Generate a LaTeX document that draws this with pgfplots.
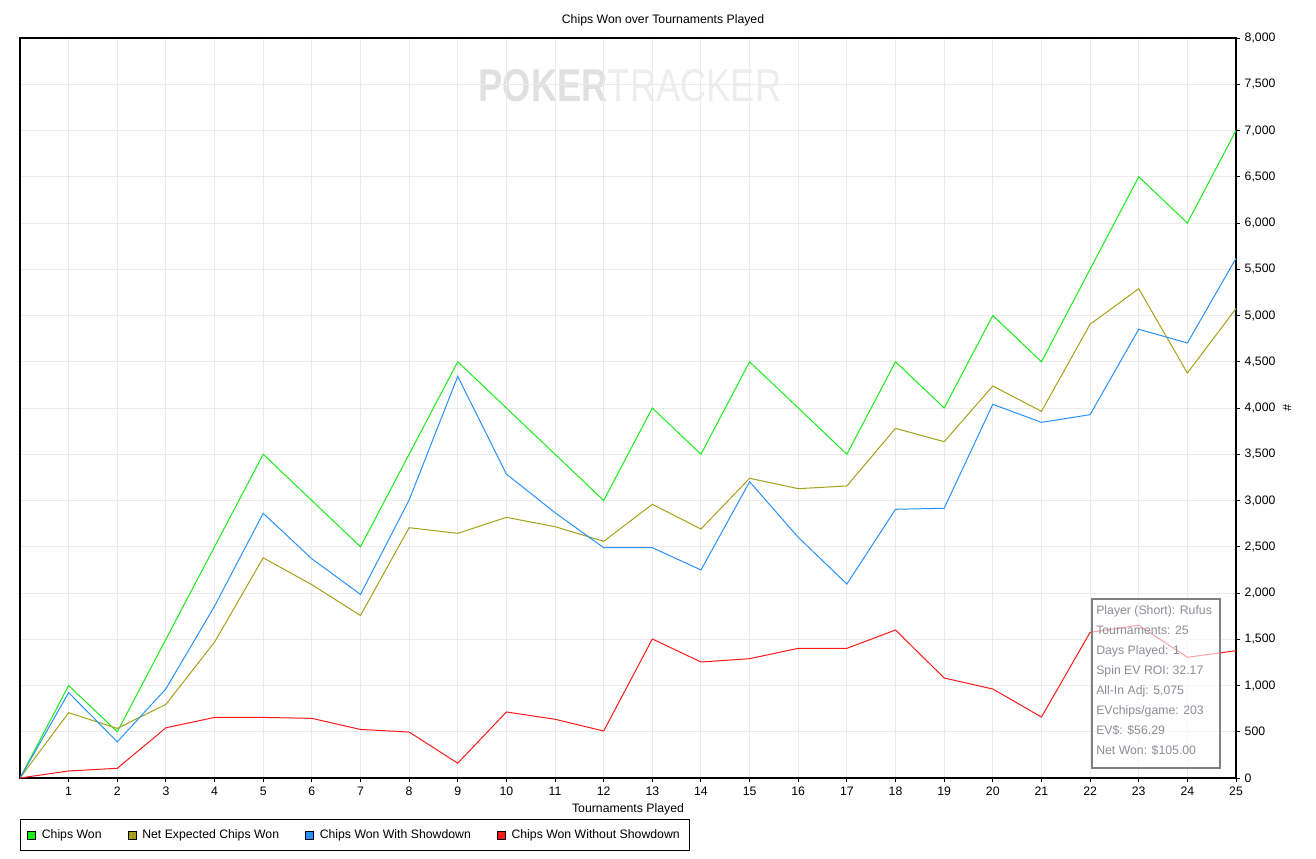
\documentclass[border=0pt]{standalone}
\usepackage{fontspec}
\setmainfont{Liberation Sans}
\usepackage{pgfplots}
\usepackage{pgfplotstable}
\pgfplotsset{compat=1.18}
\definecolor{cwgreen}{RGB}{25,235,25}
\definecolor{cwolive}{RGB}{165,160,25}
\definecolor{cwblue}{RGB}{40,145,250}
\definecolor{cwred}{RGB}{250,25,25}
\definecolor{infotext}{RGB}{140,140,150}

\pgfplotstableread{
x  won   netev  sd    nosd
0  0     0      0     0
1  1000  706    923   76
2  500   536    391   105
3  1500  796    964   543
4  2500  1470   1858  655
5  3500  2380   2862  655
6  3000  2090   2370  645
7  2500  1757   1985  525
8  3500  2706   3005  497
9  4500  2645   4342  160
10 4000  2818   3286  714
11 3500  2717   2868  635
12 3000  2559   2490  508
13 4000  2959   2490  1503
14 3500  2692   2249  1254
15 4500  3240   3203  1290
16 4000  3128   2602  1402
17 3500  3157   2097  1402
18 4500  3780   2905  1600
19 4000  3636   2916  1081
20 5000  4238   4040  962
21 4500  3964   3845  659
22 5500  4905   3928  1575
23 6500  5290   4851  1651
24 6000  4378   4703  1305
25 7000  5075   5618  1376
}\chipsdata

\newcommand{\cf}{\fontsize{9.2}{11}\selectfont}

\begin{document}
\begin{tikzpicture}[x=1pt,y=1pt]
\useasboundingbox (0,0) rectangle (987,643.5);
% watermark
\node[font=\fontsize{34.5}{36}\selectfont, inner sep=0] at (472.5,579)
  {\scalebox{0.79}[1]{\textcolor{black!12}{\textbf{POKER}}\textcolor{black!7}{TRACKER}}};
\begin{axis}[
  at={(15pt,60pt)}, anchor=south west,
  scale only axis, width=912pt, height=555pt,
  xmin=0, xmax=25, ymin=0, ymax=8000,
  xtick={1,...,25}, ytick={0,500,...,8000},
  grid=major, major grid style={color=black!8, line width=0.75pt},
  axis line style={line width=1pt, black},
  tick align=outside, xtick pos=bottom, ytick pos=right, yticklabel pos=right,
  major tick length=3pt, tick style={black, line width=0.75pt},
  ticklabel style={font=\cf},
  /pgf/number format/assume math mode=true,
  /pgf/number format/1000 sep={,},
  scaled y ticks=false,
  title={Chips Won over Tournaments Played},
  title style={at={(axis description cs:0.5288,1)}, anchor=center, yshift=7.5pt, font=\cf},
  xlabel={Tournaments Played},
  xlabel style={at={(axis description cs:0.5,0)}, anchor=center, yshift=-23.5pt, font=\cf},
  ylabel={\#},
  ylabel style={at={(axis description cs:1.0419,0.5)}, anchor=center, rotate=180, font=\cf},
  no markers,
  legend columns=4,
  legend cell align=left,
  legend style={at={(axis description cs:0,0)}, anchor=north west, yshift=-30.75pt,
    draw=black, line width=0.75pt, font=\cf, inner xsep=5pt, inner ysep=5.5pt,
    /tikz/every odd column/.append style={column sep=2.5pt},
    /tikz/every even column/.append style={column sep=17.5pt}},
  legend image code/.code={\draw[#1, draw=black, line width=0.5pt, fill] (0pt,-3pt) rectangle (6pt,3pt);},
]
\addplot[color=cwgreen, line width=0.75pt] table[x=x, y=won]{\chipsdata};
\addlegendentry{Chips Won}
\addplot[color=cwolive, line width=0.75pt] table[x=x, y=netev]{\chipsdata};
\addlegendentry{Net Expected Chips Won}
\addplot[color=cwblue, line width=0.75pt] table[x=x, y=sd]{\chipsdata};
\addlegendentry{Chips Won With Showdown}
\addplot[color=cwred, line width=0.75pt] table[x=x, y=nosd]{\chipsdata};
\addlegendentry{Chips Won Without Showdown}
\end{axis}
% info box
\draw[black!50, line width=1pt, fill=white, fill opacity=0.6] (819,67.5) rectangle (915,194.25);
\node[anchor=north west, inner sep=0, align=left, text=infotext, font=\fontsize{9.2}{15}\selectfont] at (822,189.5)
{Player (Short): Rufus\\Tournaments: 25\\Days Played: 1\\Spin EV ROI: 32.17\\All-In Adj: 5,075\\EVchips/game: 203\\EV\$: \$56.29\\Net Won: \$105.00};
\end{tikzpicture}
\end{document}
